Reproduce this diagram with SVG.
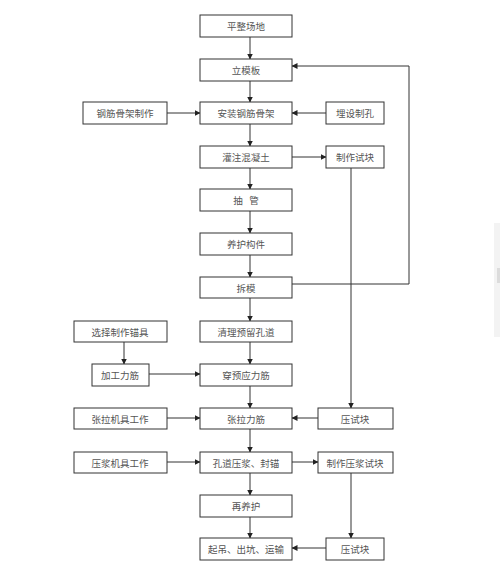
<svg xmlns="http://www.w3.org/2000/svg" width="500" height="563" viewBox="0 0 500 563">
<defs>
<marker id="ah" markerWidth="6" markerHeight="6" refX="5.5" refY="3" orient="auto" markerUnits="userSpaceOnUse">
<path d="M0,0 L6,3 L0,6 Z" fill="#222"/>
</marker>
<style>
.box{fill:#fff;stroke:#333;stroke-width:1}
.t{font-family:"Noto Sans CJK SC","Liberation Serif",sans-serif;font-size:9.5px;fill:#555;text-anchor:middle;dominant-baseline:central}
.c{fill:none;stroke:#333;stroke-width:1}
.a{marker-end:url(#ah)}
</style>
</defs>
<rect width="500" height="563" fill="#fff"/>
<rect x="494" y="223" width="6" height="114" fill="#f3f3f3"/>
<rect x="497" y="268" width="3" height="15" fill="#dcdcdc"/>

<g id="connectors">
<line class="c a" x1="250" y1="37" x2="250" y2="59"/>
<line class="c a" x1="250" y1="81" x2="250" y2="102"/>
<line class="c a" x1="167" y1="113" x2="200" y2="113"/>
<line class="c a" x1="326" y1="113" x2="292" y2="113"/>
<line class="c a" x1="250" y1="124" x2="250" y2="146"/>
<line class="c a" x1="292" y1="157" x2="326" y2="157"/>
<line class="c a" x1="250" y1="168" x2="250" y2="189"/>
<line class="c a" x1="250" y1="211" x2="250" y2="233"/>
<line class="c a" x1="250" y1="255" x2="250" y2="277"/>
<polyline class="c a" points="292,284 409,284 409,66 292,66"/>
<line class="c a" x1="250" y1="298" x2="250" y2="321"/>
<line class="c a" x1="351" y1="168" x2="351" y2="408"/>
<line class="c a" x1="124" y1="342" x2="124" y2="364"/>
<line class="c a" x1="149" y1="374" x2="200" y2="374"/>
<line class="c a" x1="250" y1="342" x2="250" y2="364"/>
<line class="c a" x1="250" y1="386" x2="250" y2="408"/>
<line class="c a" x1="167" y1="418" x2="200" y2="418"/>
<line class="c a" x1="318" y1="418" x2="292" y2="418"/>
<line class="c a" x1="250" y1="429" x2="250" y2="452"/>
<line class="c a" x1="167" y1="462" x2="200" y2="462"/>
<line class="c a" x1="292" y1="462" x2="318" y2="462"/>
<line class="c a" x1="250" y1="473" x2="250" y2="495"/>
<line class="c a" x1="250" y1="517" x2="250" y2="538"/>
<line class="c a" x1="351" y1="473" x2="351" y2="538"/>
<line class="c a" x1="326" y1="548" x2="292" y2="548"/>
</g>

<g id="n1"><rect class="box" x="200" y="15" width="92" height="22"/><text class="t" x="246" y="26">平整场地</text></g>
<g id="n2"><rect class="box" x="200" y="59" width="92" height="22"/><text class="t" x="246" y="70">立模板</text></g>
<g id="n3"><rect class="box" x="200" y="102" width="92" height="22"/><text class="t" x="246" y="113">安装钢筋骨架</text></g>
<g id="n4"><rect class="box" x="83" y="102" width="84" height="22"/><text class="t" x="125" y="113">钢筋骨架制作</text></g>
<g id="n5"><rect class="box" x="326" y="102" width="58" height="22"/><text class="t" x="355" y="113">埋设制孔</text></g>
<g id="n6"><rect class="box" x="200" y="146" width="92" height="22"/><text class="t" x="246" y="157">灌注混凝土</text></g>
<g id="n7"><rect class="box" x="326" y="146" width="58" height="22"/><text class="t" x="355" y="157">制作试块</text></g>
<g id="n8"><rect class="box" x="200" y="189" width="92" height="22"/><text class="t" x="246" y="200" xml:space="preserve">抽   管</text></g>
<g id="n9"><rect class="box" x="200" y="233" width="92" height="22"/><text class="t" x="246" y="244">养护构件</text></g>
<g id="n10"><rect class="box" x="200" y="277" width="92" height="21"/><text class="t" x="246" y="288">拆模</text></g>
<g id="n11"><rect class="box" x="200" y="321" width="92" height="21"/><text class="t" x="246" y="332">清理预留孔道</text></g>
<g id="n12"><rect class="box" x="74" y="321" width="93" height="21"/><text class="t" x="120" y="332">选择制作锚具</text></g>
<g id="n13"><rect class="box" x="92" y="364" width="57" height="22"/><text class="t" x="120" y="375">加工力筋</text></g>
<g id="n14"><rect class="box" x="200" y="364" width="92" height="22"/><text class="t" x="246" y="375">穿预应力筋</text></g>
<g id="n15"><rect class="box" x="74" y="408" width="93" height="21"/><text class="t" x="120" y="419">张拉机具工作</text></g>
<g id="n16"><rect class="box" x="200" y="408" width="92" height="21"/><text class="t" x="246" y="419">张拉力筋</text></g>
<g id="n17"><rect class="box" x="318" y="408" width="75" height="21"/><text class="t" x="355" y="419">压试块</text></g>
<g id="n18"><rect class="box" x="74" y="452" width="93" height="21"/><text class="t" x="120" y="463">压浆机具工作</text></g>
<g id="n19"><rect class="box" x="200" y="452" width="92" height="21"/><text class="t" x="246" y="463">孔道压浆、封锚</text></g>
<g id="n20"><rect class="box" x="318" y="452" width="75" height="21"/><text class="t" x="355" y="463">制作压浆试块</text></g>
<g id="n21"><rect class="box" x="200" y="495" width="92" height="22"/><text class="t" x="246" y="506">再养护</text></g>
<g id="n22"><rect class="box" x="200" y="538" width="92" height="22"/><text class="t" x="246" y="549">起吊、出坑、运输</text></g>
<g id="n23"><rect class="box" x="326" y="538" width="58" height="22"/><text class="t" x="355" y="549">压试块</text></g>
</svg>
